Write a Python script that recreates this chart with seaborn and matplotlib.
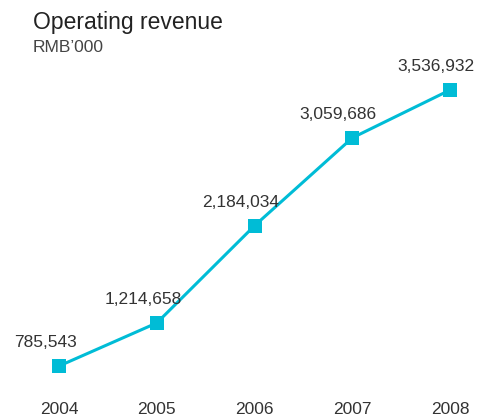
import matplotlib
matplotlib.use("Agg")
import matplotlib.pyplot as plt
import seaborn as sns
import pandas as pd

# Operating revenue, RMB'000
years = [2004, 2005, 2006, 2007, 2008]
revenue = [785543, 1214658, 2184034, 3059686, 3536932]

sns.set_style("white")
plt.rcParams['font.family'] = ['Liberation Sans', 'DejaVu Sans']

df = pd.DataFrame({'year': years, 'revenue': revenue})

fig = plt.figure(figsize=(4.86, 4.19), dpi=100)
ax = fig.add_axes([0, 24 / 419, 1, 395 / 419])

sns.lineplot(
    data=df, x='year', y='revenue', ax=ax,
    color='#00bcd6', linewidth=2.2,
    marker='s', markersize=10, markeredgewidth=0,
)

# value labels above-left of each point
for row in df.itertuples():
    ax.annotate(
        f"{row.revenue:,}",
        (row.year, row.revenue),
        xytext=(-10, 17), textcoords='offset points',
        ha='center', va='center', fontsize=12.5, color='#333333'
    )

ax.set_xlim(2003.396, 2008.368)
ax.set_ylim(496448, 4434124)
ax.set_xticks(years)
ax.set_xticklabels([str(y) for y in years], fontsize=12.5, color='#333333')
ax.set_yticks([])
ax.tick_params(axis='x', length=0, pad=5)
ax.set_xlabel('')
ax.set_ylabel('')
sns.despine(ax=ax, left=True, bottom=True)

fig.text(33 / 486, 1 - 23 / 419, 'Operating revenue', fontsize=16.5,
         color='#222222', ha='left', va='center')
fig.text(33 / 486, 1 - 48 / 419, 'RMB\u2019000', fontsize=12.5,
         color='#444444', ha='left', va='center')

fig.savefig('out.png', dpi=100)
